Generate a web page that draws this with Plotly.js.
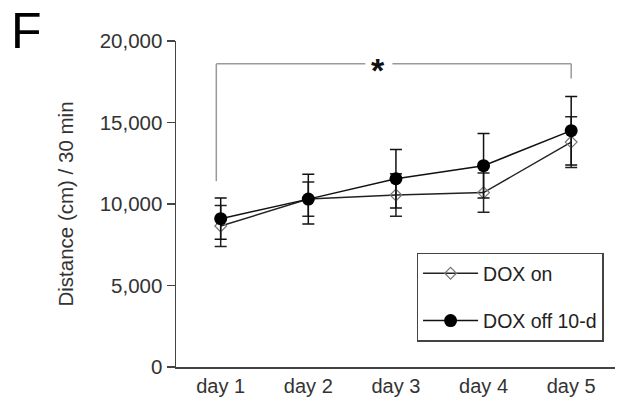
<!DOCTYPE html>
<html>
<head>
<meta charset="utf-8">
<script src="https://cdn.plot.ly/plotly-3.0.1.min.js"></script>
<style>html,body{margin:0;padding:0;background:#fff;}#chart{width:617px;height:406px;}</style>
</head>
<body>
<div id="chart"></div>
<script>
// ---- data ----
const days = ['day 1', 'day 2', 'day 3', 'day 4', 'day 5'];
const doxOn = [8650, 10300, 10550, 10700, 13800];
const doxOnErr = [1260, 1050, 1300, 1200, 1560];
const doxOff = [9100, 10300, 11550, 12350, 14500];
const doxOffErr = [1270, 1530, 1800, 1980, 2100];
const yTicks = [0, 5000, 10000, 15000, 20000];
const seriesNames = ['DOX on', 'DOX off 10-d'];
// significance bracket (category index, value)
const bracketX = [-0.05, 4];
const bracketTop = 18600;
const bracketLeftBottom = 11400;
const bracketRightBottom = 17700;
const starGap = [1.65, 1.96];
const starPos = [1.8, 18600];

const traces = [
  {
    x: days, y: doxOn, name: seriesNames[0], legendgroup: 'a',
    type: 'scatter', mode: 'lines+markers',
    line: {color: '#222', width: 1.5},
    marker: {symbol: 'diamond-open', size: 9, color: '#777', line: {width: 1.2, color: '#777'}},
    error_y: {type: 'data', array: doxOnErr, visible: true, color: '#222', thickness: 1.5, width: 6}
  },
  {
    x: days, y: doxOff, name: seriesNames[1], legendgroup: 'b',
    type: 'scatter', mode: 'lines+markers',
    line: {color: '#111', width: 1.5},
    marker: {symbol: 'circle', size: 13, color: '#000'},
    error_y: {type: 'data', array: doxOffErr, visible: true, color: '#111', thickness: 1.5, width: 6}
  }
];

const grey = '#9a9a9a';
const shapes = [
  {type: 'line', xref: 'x', yref: 'y', x0: bracketX[0], x1: bracketX[0], y0: bracketLeftBottom, y1: bracketTop, line: {color: grey, width: 1.5}},
  {type: 'line', xref: 'x', yref: 'y', x0: bracketX[0], x1: starGap[0], y0: bracketTop, y1: bracketTop, line: {color: grey, width: 1.5}},
  {type: 'line', xref: 'x', yref: 'y', x0: starGap[1], x1: bracketX[1], y0: bracketTop, y1: bracketTop, line: {color: grey, width: 1.5}},
  {type: 'line', xref: 'x', yref: 'y', x0: bracketX[1], x1: bracketX[1], y0: bracketRightBottom, y1: bracketTop, line: {color: grey, width: 1.5}}
];

const layout = {
  width: 617, height: 406,
  margin: {l: 176, r: 2, t: 41, b: 38.5},
  paper_bgcolor: '#fff', plot_bgcolor: '#fff',
  font: {family: 'Liberation Sans, Arial, sans-serif', color: '#333'},
  showlegend: true,
  legend: {
    x: 0.548, y: 0.351, xanchor: 'left', yanchor: 'top',
    bordercolor: '#444', borderwidth: 1.5, bgcolor: '#fff',
    font: {size: 19.5, color: '#222'},
    itemwidth: 55,
    traceorder: 'grouped', tracegroupgap: 19
  },
  xaxis: {
    type: 'category', range: [-0.51, 4.5],
    showline: true, linecolor: '#444', linewidth: 1.5,
    ticks: '', showgrid: false, zeroline: false,
    tickfont: {size: 20, color: '#333'}
  },
  yaxis: {
    range: [0, 20000], tickvals: yTicks, tickformat: ',',
    showline: true, linecolor: '#444', linewidth: 1.5,
    ticks: 'outside', ticklen: 8, tickwidth: 1.5, tickcolor: '#444',
    showgrid: false, zeroline: false,
    tickfont: {size: 20.5, color: '#333'},
    title: {text: 'Distance (cm) / 30 min', font: {size: 20.5, color: '#333'}, standoff: 20}
  },
  shapes: shapes,
  annotations: [
    {text: '<b>*</b>', xref: 'x', yref: 'y', x: starPos[0], y: starPos[1], showarrow: false, font: {size: 34, color: '#111'}, yanchor: 'middle', yshift: -6},
    {text: 'F', xref: 'paper', yref: 'paper', x: -0.38, y: 1.032, xanchor: 'left', yanchor: 'middle', showarrow: false, font: {size: 50, color: '#000'}}
  ]
};

Plotly.newPlot('chart', traces, layout, {displayModeBar: false, staticPlot: true});
</script>
</body>
</html>
